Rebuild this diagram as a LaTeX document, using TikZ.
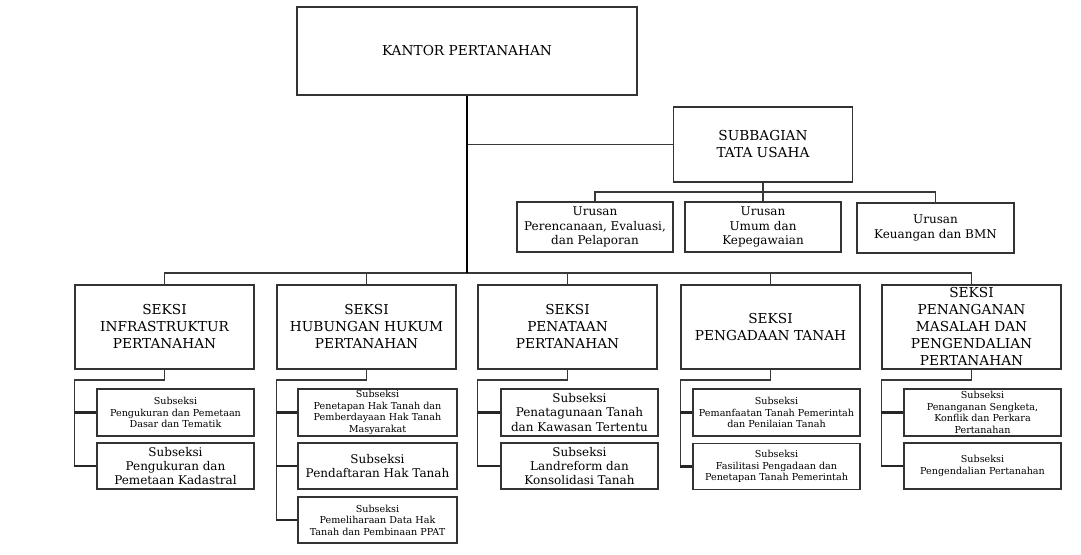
\documentclass[tikz,border=0pt]{standalone}
\usepackage{fontspec}
\setmainfont{DejaVu Serif}

\begin{document}
\begin{tikzpicture}[line cap=rect,line join=miter,x=1pt,y=-1pt,
	box/.style={draw=black!80,line width=1.3pt,inner sep=0pt,align=center},
	bigtext/.style={font=\fontsize{13.7}{17}\selectfont},
	midtext/.style={font=\fontsize{12}{14.4}\selectfont},
	smalltext/.style={font=\fontsize{9.6}{11.5}\selectfont},
	seksi/.style={box,bigtext,minimum width=179,minimum height=84},
	link/.style={draw=black!78,line width=1.7pt},
	trunk/.style={draw=black,line width=2.8pt,line cap=butt},
	stub/.style={draw=black!85,line width=2.2pt,line cap=butt}]
		\useasboundingbox (0,0) rectangle (1081,554);
		% kantor dan tata usaha
		\node[box,bigtext,minimum width=340,minimum height=88] (kantor) at (467,51) {KANTOR PERTANAHAN};
		\node[box,bigtext,minimum width=179,minimum height=75] (tu) at (763,144.5) {SUBBAGIAN\\TATA USAHA};
		\node[box,midtext,minimum width=156,minimum height=50] (ur1) at (595,227) {Urusan\\Perencanaan, Evaluasi,\\dan Pelaporan};
		\node[box,midtext,minimum width=156,minimum height=50] (ur2) at (763,227) {Urusan\\Umum dan\\Kepegawaian};
		\node[box,midtext,minimum width=157,minimum height=50] (ur3) at (935.5,228) {Urusan\\Keuangan dan BMN};
		% seksi
		\node[seksi] (s1) at (164.5,327) {SEKSI\\INFRASTRUKTUR\\PERTANAHAN};
		\node[seksi] (s2) at (366.5,327) {SEKSI\\HUBUNGAN HUKUM\\PERTANAHAN};
		\node[seksi] (s3) at (567.5,327) {SEKSI\\PENATAAN\\PERTANAHAN};
		\node[seksi] (s4) at (770.5,327) {SEKSI\\PENGADAAN TANAH};
		\node[seksi] (s5) at (971.5,327) {SEKSI\\PENANGANAN\\MASALAH DAN\\PENGENDALIAN\\PERTANAHAN};
		% subseksi
		\node[box,smalltext,minimum width=157,minimum height=47] (s1a) at (175.5,412.5) {Subseksi\\Pengukuran dan Pemetaan\\Dasar dan Tematik};
		\node[box,midtext,minimum width=157,minimum height=46] (s1b) at (175.5,466) {Subseksi\\Pengukuran dan\\Pemetaan Kadastral};
		\node[box,smalltext,minimum width=159,minimum height=47] (s2a) at (377.5,412.5) {Subseksi\\Penetapan Hak Tanah dan\\Pemberdayaan Hak Tanah\\Masyarakat};
		\node[box,midtext,minimum width=159,minimum height=46] (s2b) at (377.5,466) {Subseksi\\Pendaftaran Hak Tanah};
		\node[box,smalltext,minimum width=159,minimum height=46] (s2c) at (377.5,520) {Subseksi\\Pemeliharaan Data Hak\\Tanah dan Pembinaan PPAT};
		\node[box,midtext,minimum width=157,minimum height=47] (s3a) at (579.5,412.5) {Subseksi\\Penatagunaan Tanah\\dan Kawasan Tertentu};
		\node[box,midtext,minimum width=157,minimum height=46] (s3b) at (579.5,466) {Subseksi\\Landreform dan\\Konsolidasi Tanah};
		\node[box,smalltext,minimum width=167,minimum height=47] (s4a) at (776.5,412.5) {Subseksi\\Pemanfaatan Tanah Pemerintah\\dan Penilaian Tanah};
		\node[box,smalltext,minimum width=167,minimum height=46] (s4b) at (776.5,466.5) {Subseksi\\Fasilitasi Pengadaan dan\\Penetapan Tanah Pemerintah};
		\node[box,smalltext,minimum width=157,minimum height=47] (s5a) at (982.5,412.5) {Subseksi\\Penanganan Sengketa,\\Konflik dan Perkara\\Pertanahan};
		\node[box,smalltext,minimum width=157,minimum height=46] (s5b) at (982.5,466) {Subseksi\\Pengendalian Pertanahan};
		% garis
		\coordinate (bus) at (467,273);
		\coordinate (ubus) at (763,192);
		\draw[link] (kantor.south |- tu.west) -- (tu.west);
		\draw[link] (ur1.north) |- (ubus) -| (ur3.north);
		\draw[link] (tu.south) -- (ur2.north);
		\draw[link] (s1.north) |- (bus) -| (s5.north);
		\foreach \s in {s2,s3,s4}
			\draw[link] (\s.north) -- (\s.north |- bus);
		\draw[trunk] (kantor.south) -- (bus);
		\draw[link] (s1.south) -- ++(0,10) -| (s1.west |- s1b.west);
		\draw[link] (s2.south) -- ++(0,10) -| (s2.west |- s2c.west);
		\draw[link] (s3.south) -- ++(0,10) -| (s3.west |- s3b.west);
		\draw[link] (s4.south) -- ++(0,10) -| (s4.west |- s4b.west);
		\draw[link] (s5.south) -- ++(0,10) -| (s5.west |- s5b.west);
		\foreach \a/\b in {s1/s1a,s1/s1b,s2/s2a,s2/s2b,s2/s2c,s3/s3a,s3/s3b,s4/s4a,s4/s4b,s5/s5a,s5/s5b}
			\draw[stub] (\a.west |- \b.west) -- (\b.west);
	\end{tikzpicture}
\end{document}
